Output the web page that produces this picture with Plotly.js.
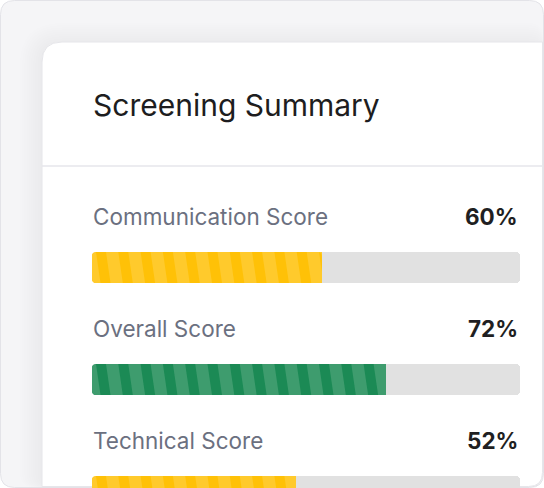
<!DOCTYPE html>
<html><head><meta charset="utf-8">
<script src="https://cdn.plot.ly/plotly-3.0.1.min.js"></script>
<style>html,body{margin:0;padding:0;background:#fff;overflow:hidden}#chart{width:544px;height:488px}</style>
</head><body><div id="chart"></div>
<script>
// ---- data ----
const chartTitle = "Screening Summary";
const categories = ["Communication Score", "Overall Score", "Technical Score"];
const scoreLabels = ["60%", "72%", "52%"];
const barFill = [53.7, 68.7, 47.7];      // drawn bar length, % of track
const trackMax = [100, 100, 100];
const fillColors = ["#ffca2c", "#3e9c6e", "#ffca2c"];
const stripeColors = ["#ffc107", "#1b8a55", "#ffc107"];

// ---- layout constants (pixels) ----
const W = 544, H = 488;
const TX0 = 92, TX1 = 520;           // track left/right
const BAR_C0 = 267.5, PITCH = 112;   // first bar centre, spacing
const BAR_H = 31, R = 4;
const STRIPE_P = 22.3, STRIPE_W = 10, STRIPE_S = 4.5, STRIPE_PH = 4;

const dx = 100 / (TX1 - TX0);  // data units per px (x)
const dy = 1 / PITCH;          // data units per px (y)
const px2paperX = x => x / W;
const px2paperY = y => 1 - y / H;

function rrPath(x0, y0, x1, y1, rtl, rtr, rbr, rbl) {
  const X = px2paperX, Y = px2paperY;
  return `M${X(x0 + rtl)},${Y(y0)} L${X(x1 - rtr)},${Y(y0)} Q${X(x1)},${Y(y0)} ${X(x1)},${Y(y0 + rtr)} ` +
    `L${X(x1)},${Y(y1 - rbr)} Q${X(x1)},${Y(y1)} ${X(x1 - rbr)},${Y(y1)} L${X(x0 + rbl)},${Y(y1)} ` +
    `Q${X(x0)},${Y(y1)} ${X(x0)},${Y(y1 - rbl)} L${X(x0)},${Y(y0 + rtl)} Q${X(x0)},${Y(y0)} ${X(x0 + rtl)},${Y(y0)} Z`;
}

const shapes = [];
// outer frame
shapes.push({type: "path", xref: "paper", yref: "paper", layer: "below",
  path: rrPath(0.5, 0.5, 543.5, 487.5, 14, 14, 14, 14), fillcolor: "#f5f5f7", line: {color: "#e3e3e8", width: 1}});
// soft shadow around card
for (let k = 10; k >= 1; k--) {
  const g = k * 2.2;
  shapes.push({type: "path", xref: "paper", yref: "paper", layer: "below",
    path: rrPath(42 - g, 42 - g + 3, 543, 487, 20 + g, 14, 14, 14),
    fillcolor: "rgba(70,70,90,0.008)", line: {width: 0}});
}
// card
shapes.push({type: "path", xref: "paper", yref: "paper", layer: "below",
  path: rrPath(42, 42, 542.5, 486.5, 20, 0, 14, 0), fillcolor: "#ffffff", line: {color: "#e6e6ea", width: 1}});
// divider
shapes.push({type: "line", xref: "paper", yref: "paper", layer: "below",
  x0: px2paperX(42), x1: px2paperX(542), y0: px2paperY(166), y1: px2paperY(166), line: {color: "#e6e6eb", width: 1.5}});

// ---- stripes: clip parallelograms against rounded bar polygon ----
function cross(u, v) { return u[0] * v[1] - u[1] * v[0]; }
function clipConvex(subject, clipP) {
  let area = 0;
  for (let i = 0; i < clipP.length; i++) { const a = clipP[i], b = clipP[(i + 1) % clipP.length]; area += a[0] * b[1] - b[0] * a[1]; }
  const sg = Math.sign(area);
  let out = subject;
  for (let i = 0; i < clipP.length && out.length; i++) {
    const a = clipP[i], b = clipP[(i + 1) % clipP.length];
    const e = [b[0] - a[0], b[1] - a[1]];
    const ins = p => sg * cross(e, [p[0] - a[0], p[1] - a[1]]) >= 0;
    const inter = (p, q) => { const d = [q[0] - p[0], q[1] - p[1]]; const t = cross([a[0] - p[0], a[1] - p[1]], e) / cross(d, e); return [p[0] + t * d[0], p[1] + t * d[1]]; };
    const inp = out; out = [];
    for (let j = 0; j < inp.length; j++) {
      const cur = inp[j], prev = inp[(j + inp.length - 1) % inp.length];
      const ci = ins(cur), pi = ins(prev);
      if (ci) { if (!pi) out.push(inter(prev, cur)); out.push(cur); } else if (pi) out.push(inter(prev, cur));
    }
  }
  return out;
}
function roundedRectPoly(L, Hh, r) {
  const pts = [], n = 6;
  const corners = [[L - r, r, -90], [L - r, Hh - r, 0], [r, Hh - r, 90], [r, r, 180]];
  corners.forEach(([cx, cy, a0]) => { for (let k = 0; k <= n; k++) { const a = (a0 + 90 * k / n) * Math.PI / 180; pts.push([cx + r * Math.cos(a), cy + r * Math.sin(a)]); } });
  return pts;
}
barFill.forEach((v, i) => {
  const L = v / dx;  // px length
  const poly = roundedRectPoly(L, BAR_H, R);
  for (let s = STRIPE_PH - STRIPE_P * 2; s < L + STRIPE_P; s += STRIPE_P) {
    const para = [[s, 0], [s + STRIPE_W, 0], [s + STRIPE_W + STRIPE_S, BAR_H], [s + STRIPE_S, BAR_H]];
    const c = clipConvex(para, poly);
    if (c.length < 3) continue;
    const path = c.map((p, k) => (k ? "L" : "M") + (p[0] * dx).toFixed(4) + "," + (i - BAR_H / 2 * dy + p[1] * dy).toFixed(5)).join(" ") + " Z";
    shapes.push({type: "path", xref: "x", yref: "y", layer: "above", path, fillcolor: stripeColors[i], line: {width: 0}});
  }
});
// round the base-side corners of the track/fill (mask outside of arc)
categories.forEach((c, i) => {
  const yt = BAR_C0 + i * PITCH - BAR_H / 2, yb = yt + BAR_H;
  [[yt, 1], [yb, -1]].forEach(([yc, dir]) => {
    if (yc > 486) return;
    const X = px2paperX, Y = px2paperY;
    shapes.push({type: "path", xref: "paper", yref: "paper", layer: "above",
      path: `M${X(TX0 - 0.3)},${Y(yc - dir * 0.3)} L${X(TX0 + R)},${Y(yc - dir * 0.3)} Q${X(TX0)},${Y(yc)} ${X(TX0 - 0.3)},${Y(yc + dir * R)} Z`,
      fillcolor: "#ffffff", line: {width: 0}});
  });
});

const yIdx = categories.map((c, i) => i);
const traces = [
  {type: "bar", orientation: "h", y: yIdx, x: trackMax, width: BAR_H / PITCH, marker: {color: "#e1e1e1", cornerradius: R},
   hoverinfo: "skip", showlegend: false},
  {type: "bar", orientation: "h", y: yIdx, x: barFill, width: BAR_H / PITCH, marker: {color: fillColors, cornerradius: R},
   text: scoreLabels, textposition: "none", hoverinfo: "skip", showlegend: false}
];

const annotations = [{xref: "paper", yref: "paper", x: px2paperX(91), y: px2paperY(105.5), xanchor: "left", yanchor: "middle",
  text: chartTitle, showarrow: false, font: {family: "Inter, 'Open Sans', sans-serif", size: 30, color: "#1d1d20"}}];
categories.forEach((c, i) => {
  const yc = BAR_C0 + i * PITCH - 51.5;
  annotations.push({xref: "paper", yref: "paper", x: px2paperX(91), y: px2paperY(yc), xanchor: "left", yanchor: "middle",
    text: c, showarrow: false, font: {family: "Inter, sans-serif", size: 22.5, color: "#6b7080"}});
  annotations.push({xref: "paper", yref: "paper", x: px2paperX(520), y: px2paperY(yc), xanchor: "right", yanchor: "middle",
    text: scoreLabels[i], showarrow: false, font: {family: "Inter, sans-serif", size: 22.5, color: "#1f1f22", weight: 700}});
});

const layout = {
  width: W, height: H, margin: {l: 0, r: 0, t: 0, b: 0},
  paper_bgcolor: "#ffffff", plot_bgcolor: "rgba(0,0,0,0)",
  barmode: "overlay", bargap: 0,
  xaxis: {domain: [TX0 / W, TX1 / W], range: [0, 100], visible: false, fixedrange: true},
  yaxis: {domain: [0, 1], range: [(H - BAR_C0) / PITCH, -BAR_C0 / PITCH], visible: false, fixedrange: true},
  shapes, annotations, showlegend: false
};
Plotly.newPlot("chart", traces, layout, {displayModeBar: false, staticPlot: true});
</script></body></html>
